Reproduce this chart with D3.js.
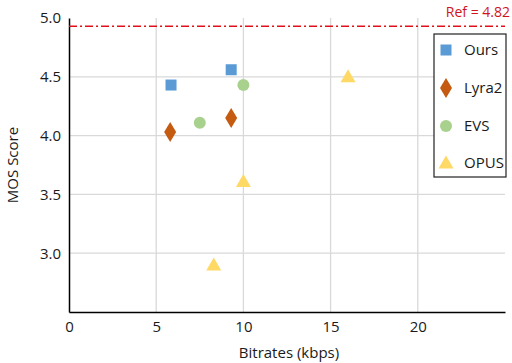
<!DOCTYPE html>
<html>
<head>
<meta charset="utf-8">
<script src="https://cdn.jsdelivr.net/npm/d3@7"></script>
<style>
  body { margin: 0; background: #fff; }
  text { font-family: "Open Sans", sans-serif; fill: #1a1a1a; }
</style>
</head>
<body>
<div id="canvas"></div>
<script>
// data
const seriesNames = ["Ours", "Lyra2", "EVS", "OPUS"];
const oursX = [5.85, 9.3];
const oursY = [4.43, 4.56];
const lyraX = [5.8, 9.3];
const lyraY = [4.03, 4.15];
const evsX = [7.5, 10.0];
const evsY = [4.11, 4.43];
const opusX = [16.0, 10.0, 8.3];
const opusY = [4.5, 3.61, 2.9];
const xTicks = [0, 5, 10, 15, 20];
const yTicks = [3.0, 3.5, 4.0, 4.5, 5.0];
const refValue = 4.93;
const refLabel = "Ref = 4.82";

const width = 512, height = 363;
const margin = {left: 69, right: 7, top: 18, bottom: 51};

const svg = d3.select("#canvas").append("svg")
    .attr("width", width)
    .attr("height", height);

const x = d3.scaleLinear().domain([0, 25]).range([margin.left, width - margin.right]);
const y = d3.scaleLinear().domain([2.5, 5.0]).range([height - margin.bottom, margin.top]);

// grid
svg.append("g")
    .selectAll("line")
    .data(xTicks.filter(d => d > 0))
    .enter().append("line")
    .attr("x1", d => x(d)).attr("x2", d => x(d))
    .attr("y1", y(5.0)).attr("y2", y(2.5))
    .attr("stroke", "#d9d9d9").attr("stroke-width", 1.3);

svg.append("g")
    .selectAll("line")
    .data(yTicks.filter(d => d < 5))
    .enter().append("line")
    .attr("x1", x(0)).attr("x2", x(25))
    .attr("y1", d => y(d)).attr("y2", d => y(d))
    .attr("stroke", "#d9d9d9").attr("stroke-width", 1.3);

// axes
const xAxis = svg.append("g")
    .attr("transform", "translate(0," + y(2.5) + ")")
    .call(d3.axisBottom(x).tickValues(xTicks).tickSize(0).tickPadding(9).tickFormat(d3.format("d")));
xAxis.select(".domain").attr("stroke", "#000").attr("stroke-width", 1.5);
xAxis.selectAll("text").attr("font-size", "15px").attr("font-family", "Open Sans").attr("fill", "#1a1a1a");

const yAxis = svg.append("g")
    .attr("transform", "translate(" + x(0) + ",0)")
    .call(d3.axisLeft(y).tickValues(yTicks).tickSize(0).tickPadding(8).tickFormat(d3.format(".1f")));
yAxis.select(".domain").attr("stroke", "#000").attr("stroke-width", 1.5);
yAxis.selectAll("text").attr("font-size", "15px").attr("font-family", "Open Sans").attr("fill", "#1a1a1a");

// axis titles
svg.append("text")
    .attr("x", (x(0) + x(25)) / 2 + 2)
    .attr("y", 358)
    .attr("text-anchor", "middle")
    .attr("font-size", "15px")
    .text("Bitrates (kbps)");

svg.append("text")
    .attr("transform", "translate(18," + y(3.75) + ") rotate(-90)")
    .attr("text-anchor", "middle")
    .attr("font-size", "15px")
    .text("MOS Score");

// reference line
svg.append("line")
    .attr("x1", x(0)).attr("x2", x(25))
    .attr("y1", y(refValue)).attr("y2", y(refValue))
    .attr("stroke", "#e0101a").attr("stroke-width", 1.3)
    .attr("stroke-dasharray", "8 3 2 3");

svg.append("text")
    .attr("x", 510).attr("y", 17)
    .attr("text-anchor", "end")
    .attr("font-size", "14px")
    .style("fill", "#d0141c")
    .text(refLabel);

// markers
const colors = {Ours: "#5b9bd5", Lyra2: "#c55a11", EVS: "#a9d18e", OPUS: "#ffd966"};
function marker(g, name, cx, cy) {
    if (name === "Ours") {
        g.append("rect").attr("x", cx - 5.5).attr("y", cy - 5.5).attr("width", 11).attr("height", 11)
            .attr("fill", colors.Ours);
    } else if (name === "Lyra2") {
        g.append("path").attr("d", "M" + cx + "," + (cy - 10) + "L" + (cx + 6) + "," + cy + "L" + cx + "," + (cy + 10) + "L" + (cx - 6) + "," + cy + "Z")
            .attr("fill", colors.Lyra2);
    } else if (name === "EVS") {
        g.append("circle").attr("cx", cx).attr("cy", cy).attr("r", 6).attr("fill", colors.EVS);
    } else {
        g.append("path").attr("d", "M" + cx + "," + (cy - 7.5) + "L" + (cx + 7.5) + "," + (cy + 5.5) + "L" + (cx - 7.5) + "," + (cy + 5.5) + "Z")
            .attr("fill", colors.OPUS);
    }
}

const pts = svg.append("g");
const allSeries = [[oursX, oursY], [lyraX, lyraY], [evsX, evsY], [opusX, opusY]];
allSeries.forEach((s, i) => {
    s[0].forEach((v, j) => marker(pts, seriesNames[i], x(v), y(s[1][j])));
});

// legend
const legend = svg.append("g");
legend.append("rect")
    .attr("x", 434).attr("y", 34).attr("width", 72).attr("height", 143)
    .attr("fill", "#fff").attr("stroke", "#222").attr("stroke-width", 1.2);
const legY = [50, 88, 126, 163];
seriesNames.forEach((n, i) => {
    marker(legend, n, 446, legY[i]);
    legend.append("text")
        .attr("x", 464).attr("y", legY[i] + 5)
        .attr("font-size", "15px")
        .text(n);
});
</script>
</body>
</html>
